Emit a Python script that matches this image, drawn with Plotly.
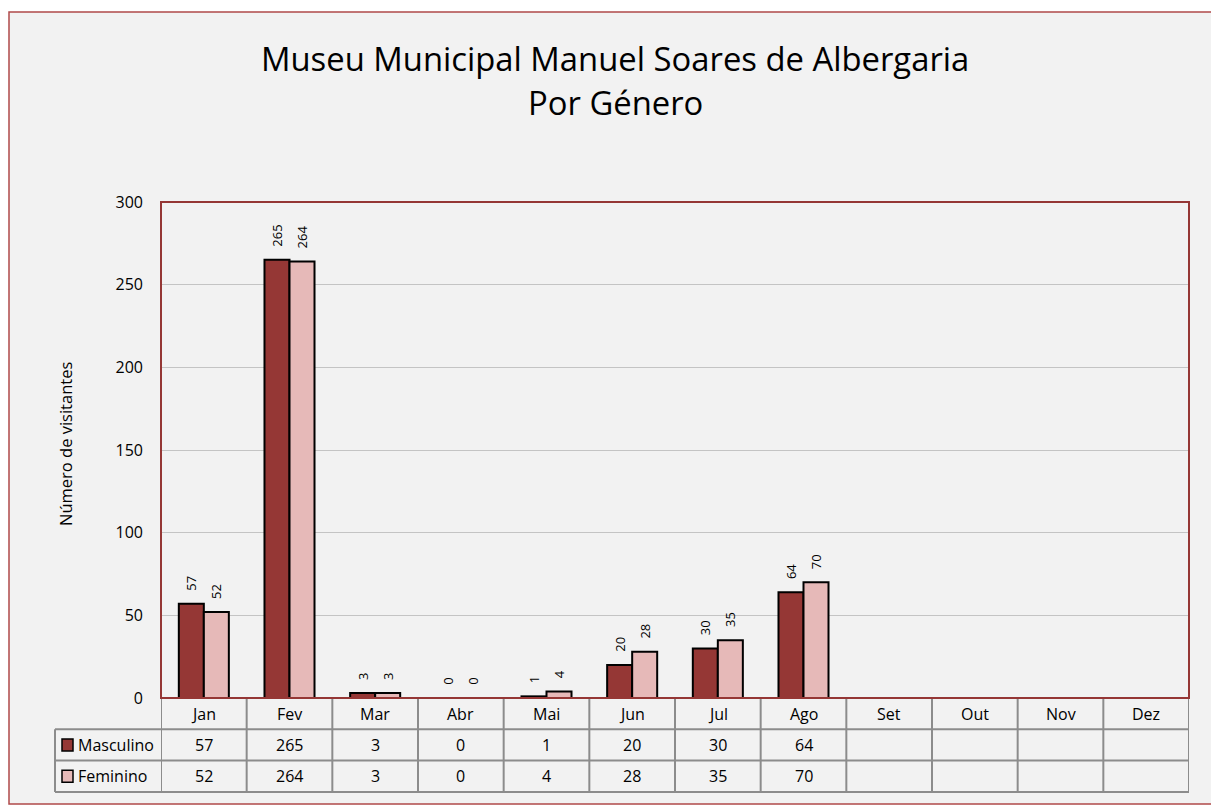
import plotly.graph_objects as go

months = ["Jan", "Fev", "Mar", "Abr", "Mai", "Jun", "Jul", "Ago", "Set", "Out", "Nov", "Dez"]
masculino = [57, 265, 3, 0, 1, 20, 30, 64, None, None, None, None]
feminino = [52, 264, 3, 0, 4, 28, 35, 70, None, None, None, None]
series_names = ["Masculino", "Feminino"]
series_colors = ["#953735", "#e6b9b8"]
y_ticks = [0, 50, 100, 150, 200, 250, 300]

FONT = "Open Sans"
W, H = 1211, 806
ML, MR, MT, MB = 161, 22, 202, 108
PW = W - ML - MR
PH = H - MT - MB

def px_x(p):
    return (p - ML) / PW

def px_y(p):
    return (H - MB - p) / PH

PAD = "\u00a0\u00a0\u00a0"

fig = go.Figure()
for name, vals, col in zip(series_names, [masculino, feminino], series_colors):
    fig.add_trace(go.Bar(
        x=months, y=vals, name=name,
        marker=dict(color=col, line=dict(color="black", width=2)),
        text=[("" if v is None else PAD + str(v)) for v in vals],
        textposition="outside", textangle=-90, constraintext="none",
        textfont=dict(family=FONT, size=13, color="black"),
        cliponaxis=False, showlegend=False,
    ))

shapes = []
# outer chart area
shapes.append(dict(type="rect", xref="paper", yref="paper", layer="below",
                   x0=px_x(9), x1=px_x(1230), y0=px_y(804), y1=px_y(12),
                   fillcolor="#f2f2f2", line=dict(color="#b04a4a", width=1.5)))

row = 31.3 / PH
grid_col = "#8c8c8c"
n = len(months)
# table verticals
for i in range(n + 1):
    shapes.append(dict(type="line", xref="x", yref="paper",
                       x0=i - 0.5, x1=i - 0.5, y0=0, y1=-3 * row,
                       line=dict(color=grid_col, width=2)))
# label column left line
shapes.append(dict(type="line", xref="paper", yref="paper",
                   x0=px_x(55), x1=px_x(55), y0=-row, y1=-3 * row,
                   line=dict(color=grid_col, width=2)))
# horizontals
for k in range(1, 4):
    shapes.append(dict(type="line", xref="paper", yref="paper",
                       x0=px_x(55), x1=1, y0=-k * row, y1=-k * row,
                       line=dict(color=grid_col, width=2)))
# plot border
shapes.append(dict(type="rect", xref="paper", yref="paper",
                   x0=0, x1=1, y0=0, y1=1,
                   line=dict(color="#953735", width=2)))

TF = dict(family=FONT, size=16, color="black")
annotations = []
# header months
for i, m in enumerate(months):
    annotations.append(dict(x=i, y=-0.5 * row, xref="x", yref="paper", text=m,
                            xanchor="center", yanchor="middle", showarrow=False, font=TF))
# values rows
for r, vals in enumerate([masculino, feminino]):
    for i, v in enumerate(vals):
        if v is None:
            continue
        annotations.append(dict(x=i, y=-(1.5 + r) * row, xref="x", yref="paper", text=str(v),
                                xanchor="center", yanchor="middle", showarrow=False, font=TF))
    # legend keys and labels
    yc = -(1.5 + r) * row
    shapes.append(dict(type="rect", xref="paper", yref="paper",
                       x0=px_x(62), x1=px_x(73), y0=yc - 6 / PH, y1=yc + 6 / PH,
                       fillcolor=series_colors[r], line=dict(color="black", width=1.5)))
    annotations.append(dict(x=px_x(76), y=yc, xref="paper", yref="paper", text=series_names[r],
                            xanchor="left", yanchor="middle", showarrow=False, font=TF))

# y-axis title
annotations.append(dict(x=px_x(65), y=px_y(444), xref="paper", yref="paper", text="Número de visitantes",
                        textangle=-90, xanchor="center", yanchor="middle", showarrow=False,
                        font=dict(family=FONT, size=16.5, color="black")))
# title
annotations.append(dict(x=px_x(615), y=px_y(58), xref="paper", yref="paper",
                        text="Museu Municipal Manuel Soares de Albergaria",
                        xanchor="center", yanchor="middle",
                        showarrow=False, font=dict(family=FONT, size=32.8, color="black")))
annotations.append(dict(x=px_x(615), y=px_y(103), xref="paper", yref="paper",
                        text="Por Género", xanchor="center", yanchor="middle",
                        showarrow=False, font=dict(family=FONT, size=32.8, color="black")))

fig.update_layout(
    width=W, height=H,
    margin=dict(l=ML, r=MR, t=MT, b=MB, pad=0),
    paper_bgcolor="white", plot_bgcolor="#d9d9d9",
    barmode="group", bargap=0.416, bargroupgap=0,
    shapes=shapes, annotations=annotations,
    xaxis=dict(showticklabels=False, ticks="", showgrid=False, zeroline=False,
               range=[-0.5, n - 0.5], categoryorder="array", categoryarray=months),
    yaxis=dict(range=[0, 300], tickvals=y_ticks, showgrid=True, gridcolor="#c4c4c4",
               gridwidth=1, zeroline=False, ticks="", ticklabelstandoff=17,
               tickfont=dict(family=FONT, size=16, color="black")),
    font=dict(family=FONT),
)

fig.write_html("out.html", config={"displayModeBar": False},
               post_script="document.body.style.margin='0px';document.body.style.overflow='hidden';")
